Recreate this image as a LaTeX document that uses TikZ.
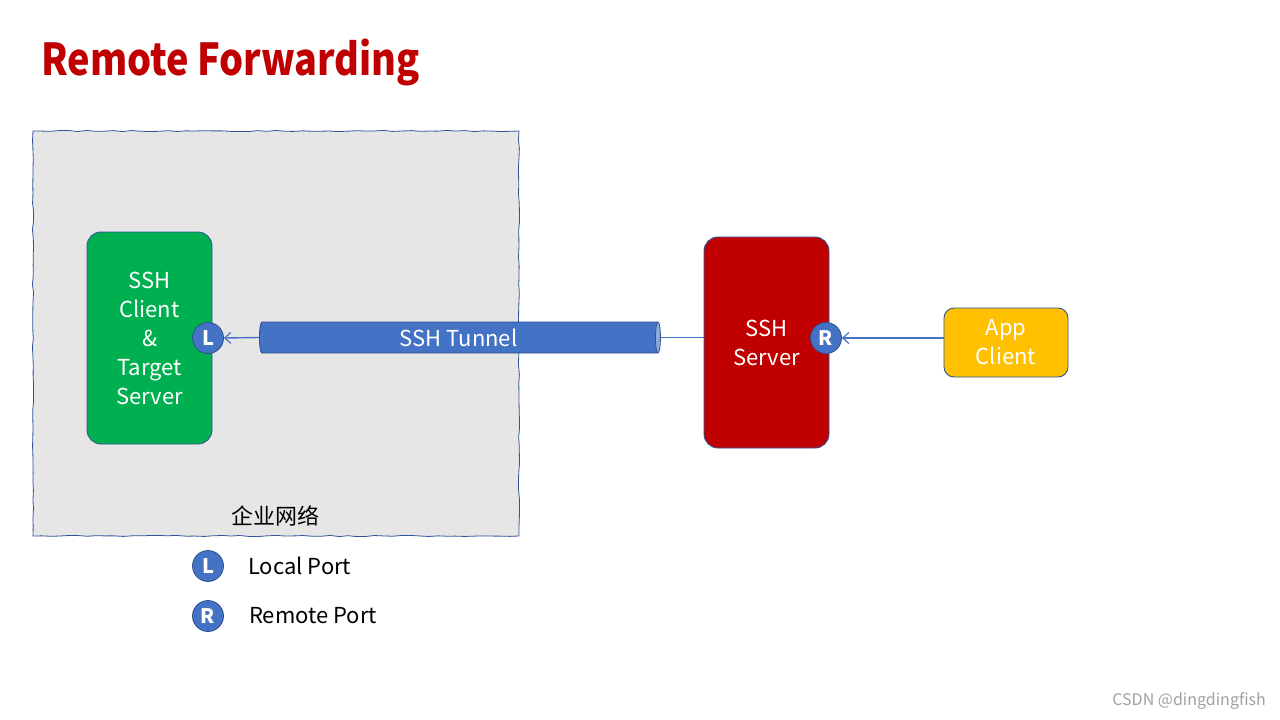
\documentclass[tikz,border=0pt]{standalone}
\usepackage{fontspec}
\setmainfont{Noto Sans CJK SC}
\usetikzlibrary{shapes.geometric,arrows.meta,decorations.pathmorphing}
\definecolor{titlered}{HTML}{C00000}
\definecolor{boxgrey}{HTML}{E6E6E6}
\definecolor{edgeblue}{HTML}{2F5597}
\definecolor{portblue}{HTML}{4472C4}
\definecolor{portedge}{HTML}{2F528F}
\definecolor{tunnelend}{HTML}{8FAADC}
\definecolor{srvgreen}{HTML}{00B050}
\definecolor{srvred}{HTML}{C00000}
\definecolor{appyellow}{HTML}{FFC000}
\definecolor{marktext}{HTML}{A0A0A0}
\tikzset{
  sketch/.style={decorate,decoration={random steps,segment length=9pt,amplitude=0.6pt}},
  hostbox/.style={draw=edgeblue,line width=0.9pt,rounded corners=14pt,text=white,align=center,
    font=\fontsize{22}{29}\selectfont,inner sep=0pt},
  port/.style={circle,fill=portblue,draw=portedge,line width=0.8pt,minimum size=31pt,inner sep=0pt,
    text=white,font=\fontsize{20}{20}\selectfont\bfseries},
  link/.style={draw=portblue,line width=1.4pt},
  arr/.style={link,-{Straight Barb[length=6pt,width=11pt,line width=1.2pt]}},
  legend/.style={anchor=west,font=\fontsize{22}{22}\selectfont,inner sep=0pt}
}
\begin{document}
\begin{tikzpicture}[x=1pt,y=-1pt]
\pgfmathsetseed{7}
\useasboundingbox (0,0) rectangle (1280,720);
\node[anchor=base west,inner sep=0pt,text=titlered,font=\fontsize{44}{44}\selectfont\bfseries] (title) at (41,75) {\scalebox{0.86}[1]{Remote Forwarding}};
% enterprise network
\node[sketch,fill=boxgrey,draw=edgeblue,line width=0.8pt,minimum width=486pt,minimum height=405pt,inner sep=0pt] (net) at (276,333.5) {};
\node[font=\fontsize{22}{22}\selectfont,inner sep=0pt] (netlabel) at (275,516) {企业网络};
% hosts
\node[hostbox,fill=srvgreen,minimum width=125pt,minimum height=212pt] (client) at (149.5,338) {SSH\\Client\\\&\\Target\\Server};
\node[hostbox,fill=srvred,minimum width=125pt,minimum height=211pt] (server) at (766.5,342.5) {SSH\\Server};
\node[hostbox,fill=appyellow,minimum width=124pt,minimum height=69pt,rounded corners=10pt] (app) at (1006,342.5) {App\\Client};
% tunnel
\node[cylinder,shape aspect=0.28,minimum width=31pt,minimum height=401pt,inner sep=0pt,
  cylinder uses custom fill,cylinder body fill=portblue,cylinder end fill=tunnelend,
  draw=portedge,line width=0.8pt,text=white,font=\fontsize{22}{22}\selectfont] (tunnel) at (458.5,337.5) {SSH Tunnel};
% ports
\node[port] (L) at (208,338) {L};
\node[port] (R) at (826,338) {R};
% connectors
\draw[link] (tunnel.east) -- (tunnel.east -| server.west);
\draw[arr] (tunnel.west) -- (L.east);
\draw[arr] (R.east -| app.west) -- (R.east);
% legend
\node[port] (legL) at (208,566) {L};
\node[legend] (legLtext) at (248,566) {Local Port};
\node[port] (legR) at (208,616) {R};
\node[legend] (legRtext) at (249,616) {Remote Port};
% watermark
\node[anchor=east,inner sep=0pt,text=marktext,font=\fontsize{16}{16}\selectfont] (mark) at (1266,701) {CSDN @dingdingfish};
\end{tikzpicture}
\end{document}
